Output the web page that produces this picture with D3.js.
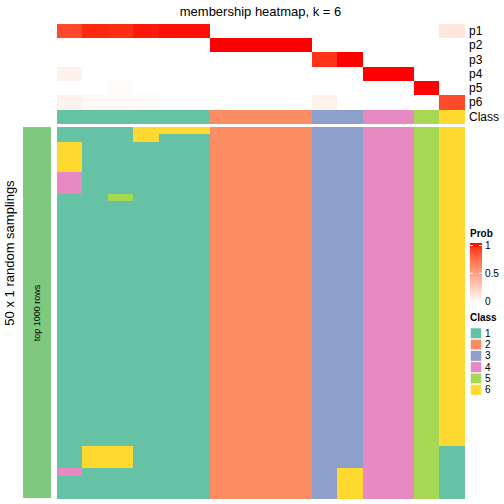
<!DOCTYPE html>
<html><head><meta charset="utf-8">
<script src="https://cdn.jsdelivr.net/npm/d3@7"></script>
<style>body{margin:0;background:#fff}svg{display:block}text{font-family:"Liberation Sans",Arial,sans-serif}</style>
</head><body>
<script>
const classes = [1,1,1,1,1,1,2,2,2,2,3,3,4,4,5,6];
const probRows = ["p1","p2","p3","p4","p5","p6"];
const p1 = [0.87,0.955,0.94,0.976,0.99,0.99,0,0,0,0,0,0,0,0,0,0.13];
const p2 = [0,0,0,0,0,0,1,1,1,1,0,0,0,0,0,0];
const p3 = [0,0,0,0,0,0,0,0,0,0,0.93,1,0,0,0,0];
const p4 = [0.07,0,0,0,0,0,0,0,0,0,0,0,1,1,0,0];
const p5 = [0,0,0.02,0,0,0,0,0,0,0,0,0,0,0,1,0];
const p6 = [0.07,0.04,0.04,0.025,0.01,0.01,0,0,0,0,0.07,0,0,0,0,0.87];
const samplings = [
"1116662222334456","1116112222334456",
"6111112222334456","6111112222334456","6111112222334456","6111112222334456",
"4111112222334456","4111112222334456","4111112222334456",
"1151112222334456",
"1111112222334456","1111112222334456","1111112222334456","1111112222334456","1111112222334456",
"1111112222334456","1111112222334456","1111112222334456","1111112222334456","1111112222334456",
"1111112222334456","1111112222334456","1111112222334456","1111112222334456","1111112222334456",
"1111112222334456","1111112222334456","1111112222334456","1111112222334456","1111112222334456",
"1111112222334456","1111112222334456","1111112222334456","1111112222334456","1111112222334456",
"1111112222334456","1111112222334456","1111112222334456","1111112222334456","1111112222334456",
"1111112222334456","1111112222334456","1111112222334456",
"1661112222334451","1661112222334451","1661112222334451",
"4111112222364451",
"1111112222364451","1111112222364451","1111112222364451"
];
const classColors = ["#66C2A5","#FC8D62","#8DA0CB","#E78AC3","#A6D854","#FFD92F"];
const classLabels = ["1","2","3","4","5","6"];
const probTicks = [0,0.5,1];

const W=504,H=504;
const svg=d3.select("body").append("svg").attr("width",W).attr("height",H);
const cols=d3.range(classes.length);
const x=d3.scaleBand().domain(cols).range([57,464.5]);
const yTop=d3.scaleBand().domain(probRows).range([24,109]);
const yBot=d3.scaleBand().domain(d3.range(samplings.length)).range([127,498]);
const probColor=d3.scaleLinear().domain([0,1]).range(["#ffffff","#ff0000"]).interpolate(d3.interpolateLab);
const classColor=d3.scaleOrdinal().domain([1,2,3,4,5,6]).range(classColors);
const pData=[p1,p2,p3,p4,p5,p6];

// title
svg.append("text").attr("x",260.5).attr("y",16).attr("text-anchor","middle").attr("font-size",13).text("membership heatmap, k = 6");

// probability rows
probRows.forEach((r,i)=>{
  svg.append("g").attr("shape-rendering","crispEdges").selectAll("rect").data(cols).join("rect")
    .attr("x",c=>x(c)).attr("y",yTop(r)).attr("width",x.bandwidth()+0.6).attr("height",yTop.bandwidth()+0.6)
    .attr("fill",c=>probColor(pData[i][c]));
  svg.append("text").attr("x",469).attr("y",yTop(r)+yTop.bandwidth()/2).attr("dy","0.35em").attr("font-size",12).text(r);
});
// class row
svg.append("g").attr("shape-rendering","crispEdges").selectAll("rect").data(cols).join("rect")
  .attr("x",c=>x(c)).attr("y",110).attr("width",x.bandwidth()+0.6).attr("height",14)
  .attr("fill",c=>classColor(classes[c]));
svg.append("text").attr("x",469).attr("y",117).attr("dy","0.35em").attr("font-size",12).text("Class");

// sampling heatmap
samplings.forEach((s,ri)=>{
  svg.append("g").attr("shape-rendering","crispEdges").selectAll("rect").data(cols).join("rect")
    .attr("x",c=>x(c)).attr("y",yBot(ri)).attr("width",x.bandwidth()+0.6).attr("height",yBot.bandwidth()+0.6)
    .attr("fill",c=>classColor(+s[c]));
});

// left annotation
svg.append("rect").attr("x",23).attr("y",127).attr("width",28).attr("height",371).attr("fill","#7FC97F");
svg.append("text").attr("transform","translate(40,313) rotate(-90)").attr("text-anchor","middle").attr("font-size",9).text("top 1000 rows");
svg.append("text").attr("transform","translate(14,253) rotate(-90)").attr("text-anchor","middle").attr("font-size",13).text("50 x 1 random samplings");

// Prob legend
const lg=svg.append("g");
lg.append("text").attr("x",470).attr("y",237).attr("font-size",10).attr("font-weight","bold").text("Prob");
const defs=svg.append("defs");
const grad=defs.append("linearGradient").attr("id","pg").attr("x1",0).attr("y1",1).attr("x2",0).attr("y2",0);
d3.range(0,1.01,0.1).forEach(t=>grad.append("stop").attr("offset",t).attr("stop-color",probColor(t)));
const ly=d3.scaleLinear().domain([0,1]).range([301,245.5]);
lg.append("rect").attr("x",470).attr("y",243).attr("width",12).attr("height",60).attr("fill","url(#pg)");
probTicks.forEach(t=>{
  lg.append("line").attr("x1",470).attr("x2",473).attr("y1",ly(t)).attr("y2",ly(t)).attr("stroke","#fff");
  lg.append("line").attr("x1",479).attr("x2",482).attr("y1",ly(t)).attr("y2",ly(t)).attr("stroke","#fff");
  lg.append("text").attr("x",485).attr("y",ly(t)).attr("dy","0.35em").attr("font-size",10).text(t===0.5?"0.5":String(t));
});
// Class legend
lg.append("text").attr("x",470).attr("y",321).attr("font-size",10).attr("font-weight","bold").text("Class");
classLabels.forEach((l,i)=>{
  const yy=328+i*11.3;
  lg.append("rect").attr("x",470.5).attr("y",yy).attr("width",11).attr("height",10.5).attr("fill",classColors[i]).attr("stroke","#fff").attr("stroke-width",0.5);
  lg.append("text").attr("x",485).attr("y",yy+5.3).attr("dy","0.35em").attr("font-size",10).text(l);
});
</script>
</body></html>
